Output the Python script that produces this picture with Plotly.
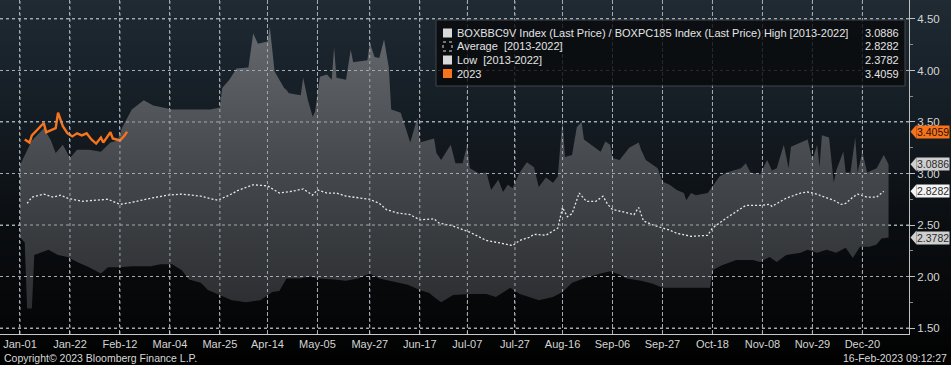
import datetime as dt
import plotly.graph_objects as go

# ---------------- data (day offsets from Jan-01 of a leap-year seasonal axis) ----------------
BASE = dt.datetime(2020, 1, 1)

high_days = [0, 3, 5, 10, 13, 15, 18, 21, 24, 29, 34, 38, 41, 43, 47, 52, 56, 60, 64, 71, 80, 84, 85, 88, 91, 96, 98, 100,
             104, 105, 107, 111, 112, 113, 118, 119, 121, 123, 124, 126, 129, 131, 132, 133, 137, 139, 140, 146, 147,
             149, 151, 153, 155, 156, 160, 164, 167, 168, 174, 175, 177, 181, 183, 186, 188, 189, 193, 196, 198, 201,
             203, 205, 207, 210, 213, 216, 218, 221, 224, 226, 227, 228, 229, 232, 234, 236, 237, 241, 244, 246, 248,
             249, 252, 256, 260, 261, 263, 268, 270, 273, 276, 279, 280, 282, 284, 289, 291, 294, 297, 303, 305, 307,
             311, 314, 316, 318, 321, 323, 324, 328, 331, 333, 335, 336, 337, 340, 342, 343, 346, 347, 349, 351, 352,
             354, 356, 360, 363, 365]
high_vals = [3.08, 3.23, 3.32, 3.44, 3.32, 3.20, 3.28, 3.15, 3.23, 3.23, 3.21, 3.30, 3.32, 3.45, 3.62, 3.71, 3.66, 3.64,
             3.62, 3.62, 3.62, 3.64, 3.83, 3.91, 4.02, 4.03, 4.36, 4.26, 4.28, 4.42, 3.99, 3.83, 3.81, 3.78, 3.76, 3.93,
             3.71, 3.55, 3.60, 3.94, 3.96, 3.91, 4.22, 3.93, 3.91, 4.20, 4.08, 4.10, 4.27, 4.13, 4.12, 4.30, 4.03, 3.62,
             3.59, 3.30, 3.54, 3.30, 3.34, 3.20, 3.13, 3.28, 3.10, 3.10, 3.28, 3.05, 3.00, 3.01, 2.84, 2.94, 2.82, 2.89,
             2.86, 3.01, 3.11, 3.06, 2.87, 2.96, 2.91, 2.97, 3.23, 3.52, 3.16, 3.18, 3.45, 3.50, 3.33, 3.26, 3.21, 3.31,
             3.28, 3.15, 3.13, 3.25, 3.30, 3.23, 3.13, 3.05, 2.92, 2.89, 2.84, 2.81, 2.74, 2.81, 2.79, 2.81, 2.87, 2.97,
             3.01, 3.05, 3.10, 3.01, 2.99, 3.13, 3.03, 3.05, 3.28, 3.05, 3.26, 3.30, 3.33, 3.13, 3.28, 3.06, 3.37, 3.35,
             2.91, 3.03, 3.21, 3.01, 3.01, 3.35, 3.01, 3.21, 3.01, 3.05, 3.18, 3.0886]

low_days = [0, 2, 3, 5, 6, 10, 12, 16, 20, 24, 29, 34, 37, 42, 47, 55, 59, 64, 67, 68, 71, 76, 79, 84, 89, 95, 101, 106,
            109, 112, 118, 121, 126, 132, 137, 142, 147, 151, 157, 163, 168, 172, 174, 177, 182, 189, 196, 200, 206, 210,
            214, 218, 224, 228, 232, 238, 244, 248, 252, 255, 261, 266, 270, 273, 286, 290, 291, 295, 301, 308, 311, 315,
            318, 322, 328, 331, 335, 339, 343, 347, 350, 353, 357, 360, 362, 365]
low_vals = [2.38, 2.33, 1.69, 1.69, 2.21, 2.24, 2.26, 2.21, 2.19, 2.14, 2.09, 2.03, 2.09, 2.09, 2.10, 2.10, 2.12, 2.12,
            2.08, 2.06, 1.97, 1.94, 1.87, 1.82, 1.77, 1.75, 1.77, 1.85, 1.86, 1.98, 1.98, 2.00, 1.98, 1.97, 1.96, 1.98,
            2.03, 1.98, 1.95, 1.92, 1.87, 1.84, 1.80, 1.75, 1.82, 1.83, 1.83, 1.80, 1.89, 1.83, 1.80, 1.77, 1.80, 1.85,
            1.94, 1.99, 2.03, 2.05, 2.02, 1.98, 1.96, 1.93, 1.89, 1.89, 1.89, 1.89, 2.06, 2.11, 2.16, 2.16, 2.14, 2.19,
            2.14, 2.21, 2.23, 2.26, 2.23, 2.26, 2.23, 2.28, 2.18, 2.29, 2.29, 2.31, 2.37, 2.3782]

avg_days = [3, 5, 10, 14, 17, 20, 26, 34, 37, 42, 47, 55, 62, 68, 76, 83, 88, 92, 98, 104, 109, 115, 119, 123, 125, 129,
            133, 137, 143, 147, 151, 154, 158, 164, 168, 174, 176, 182, 189, 196, 203, 207, 210, 214, 216, 221, 226, 228,
            230, 232, 235, 238, 242, 245, 247, 249, 253, 258, 260, 262, 266, 273, 276, 282, 289, 291, 297, 305, 311, 315,
            316, 322, 328, 331, 335, 337, 342, 345, 347, 350, 352, 356, 360, 363]
avg_vals = [2.71, 2.77, 2.80, 2.77, 2.79, 2.76, 2.73, 2.74, 2.75, 2.70, 2.72, 2.76, 2.79, 2.80, 2.78, 2.74, 2.79, 2.84,
            2.89, 2.88, 2.81, 2.83, 2.85, 2.79, 2.84, 2.81, 2.81, 2.78, 2.76, 2.75, 2.71, 2.65, 2.62, 2.60, 2.55, 2.56,
            2.52, 2.49, 2.43, 2.35, 2.32, 2.30, 2.35, 2.38, 2.41, 2.40, 2.47, 2.67, 2.58, 2.61, 2.81, 2.73, 2.73, 2.78,
            2.70, 2.65, 2.63, 2.60, 2.67, 2.54, 2.50, 2.45, 2.42, 2.39, 2.40, 2.47, 2.57, 2.69, 2.69, 2.70, 2.68, 2.76,
            2.81, 2.82, 2.80, 2.78, 2.74, 2.70, 2.71, 2.77, 2.80, 2.77, 2.77, 2.8282]

cur_days = [2, 4, 5, 8, 10, 11, 13, 15, 16, 18, 20, 22, 24, 26, 28, 30, 32, 34, 35, 37, 38, 39, 42, 44, 45]
cur_vals = [3.33, 3.30, 3.37, 3.44, 3.49, 3.40, 3.42, 3.44, 3.59, 3.46, 3.39, 3.36, 3.39, 3.37, 3.39, 3.33, 3.29, 3.35,
            3.30, 3.37, 3.40, 3.34, 3.32, 3.37, 3.4059]

tick_days = [0, 21, 42, 63, 84, 104, 125, 147, 168, 188, 208, 228, 249, 270, 291, 312, 333, 354]
tick_labels = ["Jan-01", "Jan-22", "Feb-12", "Mar-04", "Mar-25", "Apr-14", "May-05", "May-27", "Jun-17", "Jul-07",
               "Jul-27", "Aug-16", "Sep-06", "Sep-27", "Oct-18", "Nov-08", "Nov-29", "Dec-20"]
y_ticks = [1.5, 2.0, 2.5, 3.0, 3.5, 4.0, 4.5]

legend_names = ["BOXBBC9V Index (Last Price) / BOXPC185 Index (Last Price) High [2013-2022]",
                "Average  [2013-2022]", "Low  [2013-2022]", "2023"]
legend_values = [high_vals[-1], avg_vals[-1], low_vals[-1], cur_vals[-1]]


def to_dates(days):
    return [BASE + dt.timedelta(days=d) for d in days]


# ---------------- figure ----------------
W, H = 951, 365
ML, MR, MT, MB = 0, 42, 0, 31
PW, PH = W - ML - MR, H - MT - MB
Y0, Y1 = 1.442, 4.684
X0, X1 = -8.4, 373.6
FONT = "Liberation Sans, Arial"
GRID = "#a4aab1"


def px_x(p):  # pixel -> paper x
    return (p - ML) / PW


def px_y(p):  # pixel -> paper y
    return 1 - (p - MT) / PH


fig = go.Figure()

fig.add_trace(go.Scatter(x=to_dates(low_days), y=low_vals, mode="lines", line=dict(width=0, color="#2c2e31"),
                         hoverinfo="skip", showlegend=False))
fig.add_trace(go.Scatter(x=to_dates(high_days), y=high_vals, mode="lines", line=dict(width=0, color="#5a5e63"),
                         fill="tonexty",
                         fillgradient=dict(type="vertical", colorscale=[[0, "#27292c"], [0.5, "#45484c"], [1, "#6b6f74"]],
                                           start=Y0, stop=Y1),
                         hoverinfo="skip", showlegend=False))
fig.add_trace(go.Scatter(x=to_dates(avg_days), y=avg_vals, mode="lines",
                         line=dict(width=1.3, color="#e8e8e8", dash="2px,2px"), showlegend=False))
fig.add_trace(go.Scatter(x=to_dates(cur_days), y=cur_vals, mode="lines",
                         line=dict(width=2.4, color="#f7731c"), showlegend=False))

shapes = []
# background gradient (whole figure)
stops = [(0, (31, 42, 51)), (120, (20, 28, 35)), (230, (10, 13, 16)), (334, (4, 5, 6)), (365, (0, 0, 0))]


def bg_col(p):
    for (p0, c0), (p1, c1) in zip(stops[:-1], stops[1:]):
        if p0 <= p <= p1:
            t = (p - p0) / (p1 - p0)
            return "#%02x%02x%02x" % tuple(round(a + (b - a) * t) for a, b in zip(c0, c1))
    return "#000000"


NB = 73
for i in range(NB):
    p0 = i * H / NB
    p1 = (i + 1) * H / NB
    shapes.append(dict(type="rect", xref="paper", yref="paper", x0=px_x(-2), x1=px_x(W + 2),
                       y0=px_y(p1 + 0.6), y1=px_y(p0), fillcolor=bg_col((p0 + p1) / 2),
                       line=dict(width=0), layer="below"))

# dotted grid over the band, at the tick positions
for d in tick_days:
    shapes.append(dict(type="line", xref="x", yref="y", x0=BASE + dt.timedelta(days=d),
                       x1=BASE + dt.timedelta(days=d), y0=Y0, y1=Y1,
                       line=dict(color=GRID, width=1, dash="dot"), layer="above"))
for v in y_ticks:
    shapes.append(dict(type="line", xref="x", yref="y", x0=BASE + dt.timedelta(days=X0),
                       x1=BASE + dt.timedelta(days=X1), y0=v, y1=v,
                       line=dict(color=GRID, width=1, dash="dot"), layer="above"))

# legend box (semi-transparent so the grid shows through, as in the reference)
shapes.append(dict(type="rect", xref="paper", yref="paper", x0=px_x(436), x1=px_x(905), y0=px_y(86), y1=px_y(20),
                   fillcolor="#08090b", opacity=0.8, line=dict(color="#4a4e53", width=1), layer="above"))
row_y = [33, 46.5, 60, 73.5]
sq_styles = [dict(fillcolor="#d9d9d9", line=dict(width=0)),
             dict(fillcolor="#0b0c0e", line=dict(color="#d9d9d9", width=1, dash="dot")),
             dict(fillcolor="#d9d9d9", line=dict(width=0)),
             dict(fillcolor="#f7731c", line=dict(width=0))]
annotations = []
for ry, st, name, val in zip(row_y, sq_styles, legend_names, legend_values):
    shapes.append(dict(type="rect", xref="paper", yref="paper", x0=px_x(443), x1=px_x(452),
                       y0=px_y(ry + 4.5), y1=px_y(ry - 4.5), layer="above", **st))
    annotations.append(dict(xref="paper", yref="paper", x=px_x(455), y=px_y(ry), text=name, showarrow=False,
                            xanchor="left", yanchor="middle",
                            font=dict(family=FONT, size=11, color="#e4e4e4")))
    annotations.append(dict(xref="paper", yref="paper", x=px_x(901), y=px_y(ry), text="%.4f" % val, showarrow=False,
                            xanchor="right", yanchor="middle",
                            font=dict(family=FONT, size=11, color="#e4e4e4")))

# value tags on right axis
tag_styles = [("#cfcfcf", "#2a2a2a"), ("#f4f4f4", "#2a2a2a"), ("#cfcfcf", "#2a2a2a"), ("#f7731c", "#2a1200")]
for val, (bg, fg) in zip(legend_values, tag_styles):
    annotations.append(dict(xref="paper", yref="y", x=px_x(916), y=val, text="%.4f" % val, showarrow=False,
                            xanchor="left", yanchor="middle", bgcolor=bg, borderpad=0,
                            font=dict(family=FONT, size=10.5, color=fg)))
    dy = 7 * (Y1 - Y0) / PH
    shapes.append(dict(type="path", xref="paper", yref="y",
                       path="M %f,%f L %f,%f L %f,%f Z" % (px_x(910.5), val, px_x(916.5), val + dy, px_x(916.5), val - dy),
                       fillcolor=bg, line=dict(width=0), layer="above"))

annotations.append(dict(xref="paper", yref="paper", x=px_x(2), y=px_y(358), text="Copyright© 2023 Bloomberg Finance L.P.",
                        showarrow=False, xanchor="left", yanchor="middle",
                        font=dict(family=FONT, size=10.5, color="#d8d8d8")))
annotations.append(dict(xref="paper", yref="paper", x=px_x(949), y=px_y(358), text="16-Feb-2023 09:12:27",
                        showarrow=False, xanchor="right", yanchor="middle",
                        font=dict(family=FONT, size=10.5, color="#d8d8d8")))

fig.update_layout(
    width=W, height=H, margin=dict(l=ML, r=MR, t=MT, b=MB),
    paper_bgcolor="#000000", plot_bgcolor="rgba(0,0,0,0)",
    showlegend=False, shapes=shapes, annotations=annotations,
    xaxis=dict(type="date", range=[BASE + dt.timedelta(days=X0), BASE + dt.timedelta(days=X1)],
               tickvals=to_dates(tick_days), ticktext=tick_labels, zeroline=False,
               showgrid=True, gridcolor=GRID, gridwidth=1, griddash="dot",
               showline=True, linecolor="#c8c8c8", linewidth=1, ticks="inside", ticklen=3, tickcolor="#e0e0e0",
               tickfont=dict(family=FONT, size=11, color="#d4d4d4")),
    yaxis=dict(side="right", range=[Y0, Y1], tickvals=y_ticks, tickformat=".2f", zeroline=False,
               showgrid=True, gridcolor=GRID, gridwidth=1, griddash="dot",
               showline=True, linecolor="#c0c0c0", linewidth=1, ticks="outside", ticklen=5, tickcolor="#c0c0c0",
               minor=dict(dtick=0.25, ticks="outside", ticklen=3, tickcolor="#8a8a8a"),
               tickfont=dict(family=FONT, size=11.5, color="#d4d4d4")),
)

fig.write_html("out.html", config={"displayModeBar": False}, post_script="document.body.style.margin='0';")
